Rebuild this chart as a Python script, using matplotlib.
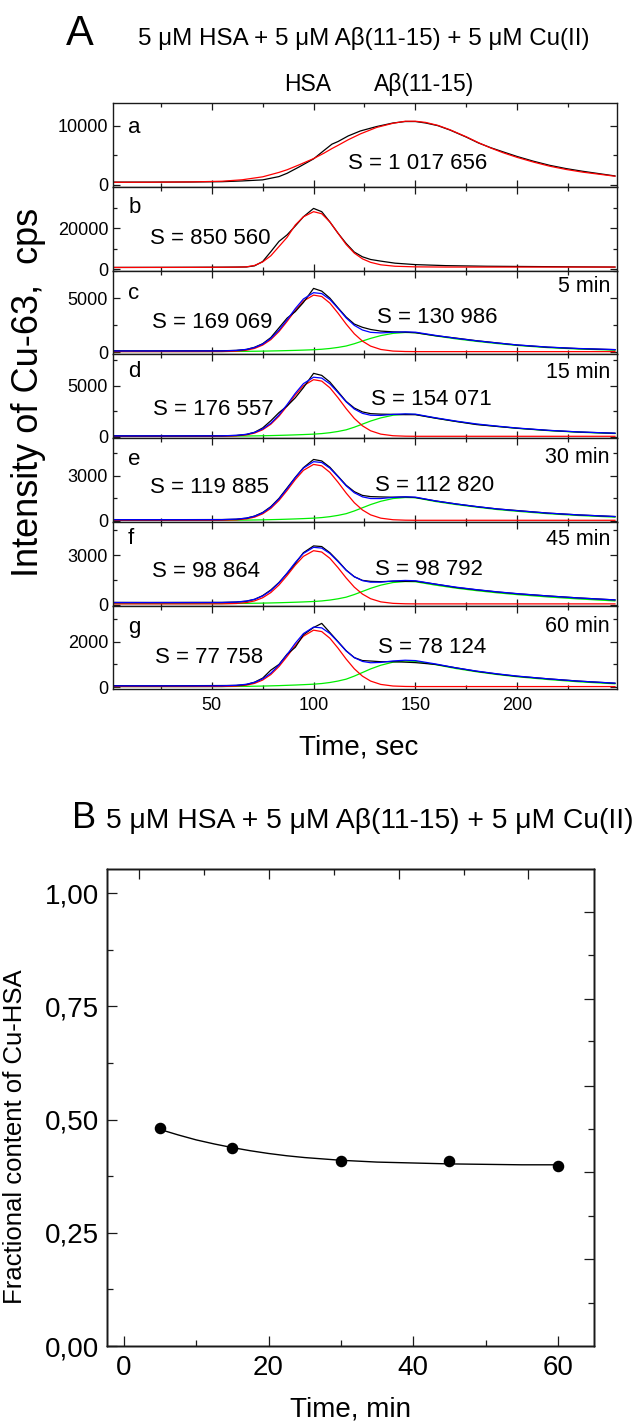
import matplotlib
matplotlib.use('Agg')
import matplotlib.pyplot as plt
from matplotlib.ticker import FixedLocator, FixedFormatter, NullFormatter

plt.rcParams['font.family'] = ['Liberation Sans', 'DejaVu Sans']

# ---------------- data ----------------
panel_letters = ['a', 'b', 'c', 'd', 'e', 'f', 'g']
s_left = ['S = 1 017 656', 'S = 850 560', 'S = 169 069', 'S = 176 557',
          'S = 119 885', 'S = 98 864', 'S = 77 758']
s_right = [None, None, 'S = 130 986', 'S = 154 071', 'S = 112 820',
           'S = 98 792', 'S = 78 124']
times = [None, None, '5 min', '15 min', '30 min', '45 min', '60 min']

t_a = [2, 20, 40, 55, 65, 75, 83, 87, 93, 100, 105, 109, 112, 117, 123, 131, 139,
       145, 150, 155, 161, 167, 175, 181, 187, 193, 200, 208, 216, 224, 232, 240, 248]
black_a = [450, 450, 470, 520, 650, 830, 1390, 1950, 3050, 4400, 5800, 6900, 7350,
           8300, 9150, 9900, 10500, 10750, 10750, 10500, 10050, 9300, 8100, 7100,
           6300, 5600, 4800, 4000, 3300, 2750, 2300, 1900, 1500]
red_a = [420, 430, 480, 600, 850, 1350, 2100, 2550, 3400, 4450, 5350, 6150, 6700,
         7650, 8650, 9750, 10450, 10800, 10800, 10600, 10100, 9350, 8150, 7150,
         6250, 5450, 4650, 3850, 3150, 2600, 2150, 1800, 1450]

t_b = [2, 20, 40, 55, 62, 67, 71, 75, 79, 83, 87, 91, 95, 100, 104, 108, 112, 116,
       120, 124, 128, 133, 140, 150, 165, 185, 200, 215, 230, 248]
black_b = [820, 850, 900, 950, 1000, 1050, 1600, 3700, 8500, 13500, 16700, 21000,
           25500, 29600, 28000, 23000, 17500, 12500, 8300, 6000, 4700, 3900, 2900,
           2200, 1700, 1400, 1300, 1200, 1100, 1000]
red_b = [800, 820, 850, 900, 950, 1100, 1800, 3500, 6500, 11000, 15500, 21500,
         25500, 28000, 27000, 23000, 17500, 12000, 7800, 5000, 3300, 2100, 1400,
         1100, 1000, 1000, 1000, 1000, 1000, 1000]

t_fit = [2, 20, 40, 55, 62, 67, 71, 75, 79, 83, 87, 91, 95, 100, 104, 108, 112, 116,
         120, 124, 128, 133, 139, 145, 150, 160, 170, 180, 190, 200, 215, 230, 248]

black_c = [130, 125, 130, 130, 165, 250, 450, 780, 1350, 2250, 3150, 3750, 4600,
           5900, 5650, 5000, 4100, 3250, 2600, 2300, 2100, 1950, 1880, 1850, 1800,
           1520, 1300, 1060, 860, 660, 460, 330, 230]
blue_c = [110, 110, 110, 116, 161, 256, 430, 750, 1270, 2035, 2995, 4025, 4920,
          5505, 5420, 4880, 4050, 3170, 2480, 2050, 1835, 1780, 1840, 1880, 1850,
          1550, 1280, 1050, 850, 670, 470, 340, 240]
red_c = [50, 50, 50, 56, 90, 180, 345, 655, 1160, 1910, 2850, 3860, 4730, 5280,
         5150, 4540, 3610, 2600, 1700, 1020, 560, 250, 100, 60, 50, 50, 50, 50, 50,
         50, 50, 50, 50]
green_c = [60, 60, 60, 60, 71, 76, 85, 95, 110, 125, 145, 165, 190, 225, 270, 340,
           440, 570, 780, 1030, 1275, 1530, 1740, 1820, 1800, 1500, 1230, 1000, 800,
           620, 420, 290, 190]

black_d = [75, 70, 75, 80, 110, 210, 420, 850, 1550, 2350, 3000, 3800, 4800, 6200,
           6000, 5350, 4400, 3450, 2800, 2420, 2250, 2200, 2180, 2150, 2150, 1800,
           1480, 1180, 1000, 820, 610, 450, 330]
blue_d = [70, 70, 70, 76, 125, 226, 412, 753, 1310, 2120, 3143, 4239, 5189, 5822,
          5736, 5172, 4314, 3404, 2702, 2278, 2094, 2077, 2178, 2231, 2200, 1840,
          1520, 1240, 1030, 840, 620, 460, 330]
red_d = [30, 30, 30, 36, 72, 167, 342, 670, 1210, 2000, 3000, 4070, 4990, 5580,
         5440, 4790, 3810, 2740, 1780, 1055, 570, 242, 85, 41, 30, 30, 30, 30, 30,
         30, 30, 30, 30]
green_d = [40, 40, 40, 40, 53, 59, 70, 83, 100, 120, 143, 169, 199, 242, 296, 382,
           504, 664, 922, 1223, 1524, 1835, 2093, 2190, 2170, 1810, 1490, 1210,
           1000, 810, 590, 430, 300]

black_e = [85, 80, 85, 90, 110, 180, 320, 560, 950, 1500, 2200, 2900, 3550, 4100,
           4000, 3580, 2980, 2380, 1950, 1700, 1620, 1600, 1580, 1600, 1560, 1330,
           1130, 950, 800, 690, 520, 400, 290]
blue_e = [80, 80, 80, 84, 117, 186, 310, 540, 916, 1460, 2146, 2886, 3524, 3952,
          3896, 3520, 2947, 2339, 1877, 1604, 1492, 1491, 1569, 1607, 1585, 1330,
          1130, 960, 800, 680, 520, 400, 290]
red_e = [40, 40, 40, 44, 68, 132, 249, 470, 833, 1364, 2033, 2755, 3372, 3769,
         3675, 3238, 2579, 1858, 1214, 728, 403, 182, 77, 47, 40, 40, 40, 40, 40,
         40, 40, 40, 40]
green_e = [40, 40, 40, 40, 49, 54, 61, 70, 83, 96, 113, 131, 152, 183, 221, 282,
           368, 481, 663, 876, 1089, 1309, 1492, 1560, 1545, 1290, 1090, 920, 760,
           640, 480, 360, 250]

black_f = [150, 145, 150, 150, 170, 220, 330, 560, 900, 1350, 1900, 2500, 3150,
           3560, 3520, 3150, 2650, 2100, 1700, 1480, 1420, 1400, 1430, 1420, 1430,
           1250, 1050, 910, 780, 670, 540, 420, 300]
blue_f = [140, 140, 140, 144, 172, 231, 339, 537, 860, 1329, 1920, 2558, 3107,
          3475, 3428, 3104, 2613, 2091, 1696, 1464, 1370, 1373, 1442, 1476, 1457,
          1250, 1070, 920, 790, 680, 540, 420, 300]
red_f = [60, 60, 60, 64, 84, 139, 240, 430, 743, 1200, 1776, 2398, 2929, 3270,
         3190, 2813, 2246, 1625, 1071, 652, 372, 182, 92, 66, 60, 60, 60, 60, 60,
         60, 60, 60, 60]
green_f = [80, 80, 80, 80, 88, 92, 99, 107, 117, 129, 144, 160, 178, 205, 238, 291,
           367, 466, 625, 812, 998, 1191, 1350, 1410, 1397, 1190, 1010, 860, 730,
           620, 480, 360, 240]

black_g = [70, 65, 70, 75, 80, 120, 220, 400, 750, 1000, 1450, 1750, 2300, 2620,
           2800, 2400, 2000, 1600, 1300, 1170, 1150, 1120, 1120, 1100, 1080, 1000,
           850, 700, 580, 480, 370, 270, 175]
blue_g = [60, 60, 60, 63, 86, 131, 215, 367, 617, 979, 1436, 1927, 2353, 2638,
          2604, 2358, 1986, 1590, 1298, 1132, 1074, 1089, 1154, 1185, 1169, 1020,
          850, 710, 590, 490, 370, 270, 180]
red_g = [30, 30, 30, 33, 49, 91, 169, 315, 556, 908, 1352, 1830, 2240, 2503, 2441,
         2150, 1714, 1235, 809, 486, 271, 124, 54, 35, 30, 30, 30, 30, 30, 30, 30,
         30, 30]
green_g = [30, 30, 30, 30, 37, 40, 46, 52, 61, 71, 84, 97, 113, 135, 163, 208, 272,
           355, 489, 646, 803, 965, 1100, 1150, 1139, 990, 820, 680, 560, 460, 340,
           240, 150]

# y-axis settings per panel (limits, labelled ticks, minor ticks)
ylims = [(-340, 13900), (-680, 40150), (-195, 7555), (-140, 8070),
         (-60, 5530), (-40, 5016), (-90, 3583)]
ymajor = [[0, 10000], [0, 20000], [0, 5000], [0, 5000], [0, 3000], [0, 3000], [0, 2000]]
yminor = [[5000], [10000, 30000], [2500, 7500], [2500, 7500], [1500, 4500],
          [1500, 4500], [1000, 3000]]
x_major = [50, 100, 150, 200]
x_minor = [25, 75, 125, 175, 225]

# panel B
B_t = [5, 15, 30, 45, 60]
B_frac = [0.481, 0.437, 0.408, 0.409, 0.397]
B_fit_t = [5, 7.5, 10, 12.5, 15, 17.5, 20, 22.5, 25, 30, 35, 40, 45, 50, 55, 60]
B_fit_y = [0.478, 0.466, 0.455, 0.446, 0.438, 0.431, 0.425, 0.420, 0.416, 0.410,
           0.406, 0.404, 0.402, 0.401, 0.400, 0.400]
B_yticks = [0.0, 0.25, 0.5, 0.75, 1.0]
B_ylabels = ['0,00', '0,25', '0,50', '0,75', '1,00']
B_yminor = [0.125, 0.375, 0.625, 0.875]
B_xticks = [0, 20, 40, 60]
B_xminor = [10, 30, 50]
B_right_long = [0.1918, 0.3834, 0.5737, 0.7655, 0.9586]
B_right_short = [0.0945, 0.2876, 0.4794, 0.6731, 0.8628]
B_top_long = [2.1, 20.0, 38.0, 55.9]
B_top_short = [11.1, 29.0, 47.0]

# ---------------- layout ----------------
W, H = 641, 1424
fig = plt.figure(figsize=(W / 100, H / 100), dpi=100)

A_left, A_right, A_top = 113, 617, 103
ph = (689.3 - 103) / 7.0
spine_c = '#1a1a1a'
RED, BLUE, GREEN, BLACK = '#ff0000', '#0000ff', '#00ee00', '#000000'

letter_off = [29.7, 26, 28.5, 22.7, 27, 22, 27]
s_left_pos = [(0.466, 0.207), (0.073, 0.316), (0.078, 0.318), (0.080, 0.276),
              (0.073, 0.349), (0.077, 0.345), (0.083, 0.318)]
s_right_pos = [None, None, (0.524, 0.37), (0.512, 0.395), (0.520, 0.373),
               (0.520, 0.365), (0.526, 0.437)]
time_y = [None, None, 0.747, 0.717, 0.707, 0.723, 0.688]

curves = {
    0: [(t_a, black_a, BLACK), (t_a, red_a, RED)],
    1: [(t_b, black_b, BLACK), (t_b, red_b, RED)],
    2: [(t_fit, green_c, GREEN), (t_fit, red_c, RED), (t_fit, black_c, BLACK), (t_fit, blue_c, BLUE)],
    3: [(t_fit, green_d, GREEN), (t_fit, red_d, RED), (t_fit, black_d, BLACK), (t_fit, blue_d, BLUE)],
    4: [(t_fit, green_e, GREEN), (t_fit, red_e, RED), (t_fit, black_e, BLACK), (t_fit, blue_e, BLUE)],
    5: [(t_fit, green_f, GREEN), (t_fit, red_f, RED), (t_fit, black_f, BLACK), (t_fit, blue_f, BLUE)],
    6: [(t_fit, green_g, GREEN), (t_fit, red_g, RED), (t_fit, black_g, BLACK), (t_fit, blue_g, BLUE)],
}

for i in range(7):
    top = A_top + i * ph
    ax = fig.add_axes([A_left / W, 1 - (top + ph) / H, (A_right - A_left) / W, ph / H])
    for tt, yy, col in curves[i]:
        ax.plot(tt, yy, color=col, lw=0.9)
    ax.set_xlim(1.5, 249)
    ax.set_ylim(*ylims[i])
    ax.xaxis.set_major_locator(FixedLocator(x_major))
    ax.xaxis.set_minor_locator(FixedLocator(x_minor))
    ax.yaxis.set_major_locator(FixedLocator(ymajor[i]))
    ax.yaxis.set_minor_locator(FixedLocator(yminor[i]))
    ax.tick_params(which='both', direction='in', top=True, right=True,
                   color=spine_c, width=0.9)
    ax.tick_params(which='major', length=5, labelsize=13, pad=3.5)
    ax.tick_params(which='minor', length=3)
    ax.tick_params(axis='x', which='major', pad=5.5)
    if i < 6:
        ax.xaxis.set_major_formatter(NullFormatter())
    for sp in ax.spines.values():
        sp.set_color(spine_c)
        sp.set_linewidth(1.0)
    ax.text(0.03, 1 - letter_off[i] / ph, panel_letters[i], transform=ax.transAxes,
            fontsize=16, va='baseline', ha='left')
    ax.text(s_left_pos[i][0], s_left_pos[i][1], s_left[i], transform=ax.transAxes,
            fontsize=16, va='baseline', ha='left')
    if s_right[i]:
        ax.text(s_right_pos[i][0], s_right_pos[i][1], s_right[i], transform=ax.transAxes,
                fontsize=16, va='baseline', ha='left')
    if times[i]:
        ax.text(0.986, time_y[i], times[i], transform=ax.transAxes,
                fontsize=15.5, va='baseline', ha='right')

fig.text(66 / W, 1 - 45 / H, 'A', fontsize=30, va='baseline', ha='left')
fig.text(364 / W, 1 - 45 / H, '5 \u03bcM HSA + 5 \u03bcM A\u03b2(11-15) + 5 \u03bcM Cu(II)',
         fontsize=17.4, va='baseline', ha='center')
fig.text(284 / W, 1 - 91 / H, 'HSA', fontsize=16.5, va='baseline', ha='left')
fig.text(374 / W, 1 - 91 / H, 'A\u03b2(11-15)', fontsize=16.5, va='baseline', ha='left')
fig.text(359 / W, 1 - 755 / H, 'Time, sec', fontsize=20, va='baseline', ha='center')
fig.text(29 / W, 1 - 392 / H, 'Intensity of Cu-63,  cps', fontsize=26, rotation=90,
         va='center', ha='center')

# ---------------- panel B ----------------
B_left, B_right, B_top, B_bot = 106.5, 594, 869, 1346
axB = fig.add_axes([B_left / W, 1 - B_bot / H, (B_right - B_left) / W, (B_bot - B_top) / H])
axB.plot(B_fit_t, B_fit_y, color='black', lw=1.0)
axB.plot(B_t, B_frac, 'o', color='black', ms=7.3)
axB.set_xlim(-2.4, 65)
axB.set_ylim(0, 1.053)
axB.xaxis.set_major_locator(FixedLocator(B_xticks))
axB.xaxis.set_minor_locator(FixedLocator(B_xminor))
axB.yaxis.set_major_locator(FixedLocator(B_yticks))
axB.yaxis.set_major_formatter(FixedFormatter(B_ylabels))
axB.yaxis.set_minor_locator(FixedLocator(B_yminor))
axB.tick_params(which='both', direction='in', top=False, right=False,
                color=spine_c, width=0.9)
axB.tick_params(which='major', length=7, labelsize=20)
axB.tick_params(which='minor', length=4)
axB.tick_params(axis='y', which='major', pad=5.5)
axB.tick_params(axis='x', which='major', pad=6.5)
for sp in axB.spines.values():
    sp.set_color(spine_c)
    sp.set_linewidth(1.0)

axR = axB.twinx()
axR.set_ylim(axB.get_ylim())
axR.yaxis.set_major_locator(FixedLocator(B_right_long))
axR.yaxis.set_minor_locator(FixedLocator(B_right_short))
axR.yaxis.set_major_formatter(NullFormatter())
axR.tick_params(which='both', direction='in', color=spine_c, width=0.9)
axR.tick_params(which='major', length=7)
axR.tick_params(which='minor', length=4)

axT = axB.twiny()
axT.set_xlim(axB.get_xlim())
axT.xaxis.set_major_locator(FixedLocator(B_top_long))
axT.xaxis.set_minor_locator(FixedLocator(B_top_short))
axT.xaxis.set_major_formatter(NullFormatter())
axT.tick_params(which='both', direction='in', color=spine_c, width=0.9)
axT.tick_params(which='major', length=7)
axT.tick_params(which='minor', length=4)
for a in (axR, axT):
    for sp in a.spines.values():
        sp.set_color(spine_c)
        sp.set_linewidth(1.0)

fig.text(72 / W, 1 - 828 / H, 'B', fontsize=26, va='baseline', ha='left')
fig.text(106 / W, 1 - 828 / H, '5 \u03bcM HSA + 5 \u03bcM A\u03b2(11-15) + 5 \u03bcM Cu(II)',
         fontsize=20.3, va='baseline', ha='left')
fig.text(350 / W, 1 - 1417 / H, 'Time, min', fontsize=20, va='baseline', ha='center')
fig.text(15 / W, 1 - 1137 / H, 'Fractional content of Cu-HSA', fontsize=18.5, rotation=90,
         va='center', ha='center')

fig.savefig('out.png', dpi=100)
